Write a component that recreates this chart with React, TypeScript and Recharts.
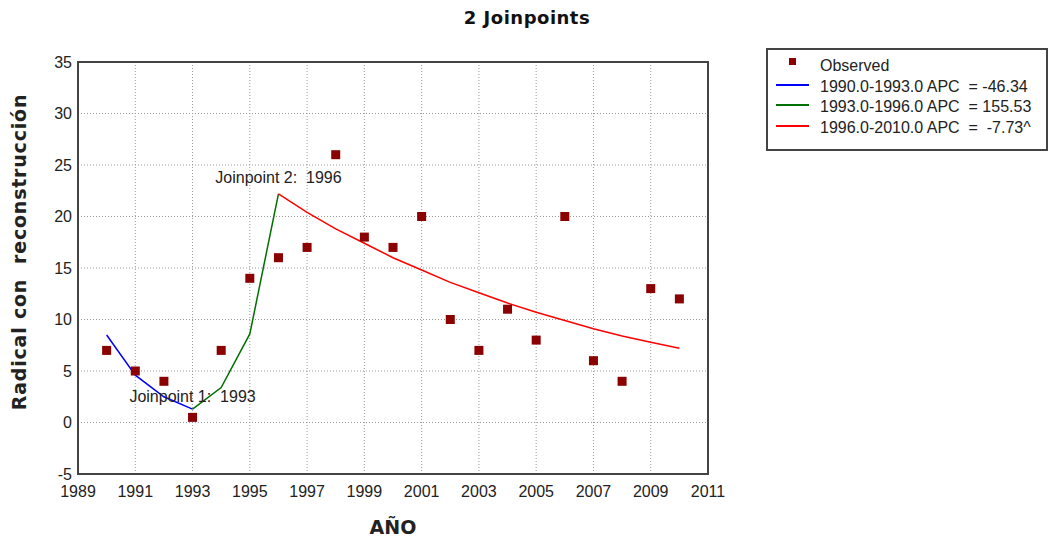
import { ComposedChart, Line, Scatter, XAxis, YAxis, CartesianGrid, ReferenceArea, ReferenceDot, Label } from 'recharts'

const years = [1990, 1991, 1992, 1993, 1994, 1995, 1996, 1997, 1998, 1999, 2000, 2001, 2002, 2003, 2004, 2005, 2006, 2007, 2008, 2009, 2010]
const observed = [7, 5, 4, 0.5, 7, 14, 16, 17, 26, 18, 17, 20, 10, 7, 11, 8, 20, 6, 4, 13, 12]

const seg1Years = [1990, 1991, 1992, 1993]
const seg1Fit = [8.5, 4.6, 2.5, 1.3]
const seg2Years = [1993, 1994, 1995, 1996]
const seg2Fit = [1.3, 3.4, 8.6, 22.2]
const seg3Years = [1996, 1997, 1998, 1999, 2000, 2001, 2002, 2003, 2004, 2005, 2006, 2007, 2008, 2009, 2010]
const seg3Fit = [22.2, 20.4, 18.8, 17.4, 16.0, 14.8, 13.6, 12.6, 11.6, 10.7, 9.9, 9.1, 8.4, 7.8, 7.2]

const xTicks = [1989, 1991, 1993, 1995, 1997, 1999, 2001, 2003, 2005, 2007, 2009, 2011]
const yTicks = [-5, 0, 5, 10, 15, 20, 25, 30, 35]

const legendItems = [
  { label: 'Observed', color: '#8b0000', kind: 'square' },
  { label: '1990.0-1993.0 APC  = -46.34', color: '#0000ff', kind: 'line' },
  { label: '1993.0-1996.0 APC  = 155.53', color: '#007000', kind: 'line' },
  { label: '1996.0-2010.0 APC  =  -7.73^', color: '#ff0000', kind: 'line' },
]

const obsData = years.map((x, i) => ({ x, y: observed[i] }))
const seg1 = seg1Years.map((x, i) => ({ x, y: seg1Fit[i] }))
const seg2 = seg2Years.map((x, i) => ({ x, y: seg2Fit[i] }))
const seg3 = seg3Years.map((x, i) => ({ x, y: seg3Fit[i] }))

const FONT = '"Liberation Sans", Arial, sans-serif'
const BOLD_FONT = '"DejaVu Sans", Verdana, sans-serif'

function Square(props: any) {
  const { cx, cy } = props
  if (cx == null || cy == null) return null
  return <rect x={cx - 4.5} y={cy - 4.5} width={9} height={9} fill="#8b0000" />
}

function LegendBox() {
  return (
    <div style={{ position: 'absolute', left: 766, top: 48, width: 278, height: 93, border: '2px solid #444', fontFamily: FONT, fontSize: 16, color: '#222', paddingTop: 6, boxSizing: 'content-box', background: '#fff' }}>
      {legendItems.map((it) => (
        <div key={it.label} style={{ display: 'flex', alignItems: 'center', height: 20.5 }}>
          <div style={{ width: 52, display: 'flex', justifyContent: 'center' }}>
            {it.kind === 'square' ? (
              <div style={{ width: 7, height: 7, background: it.color, marginTop: -8, marginLeft: -3 }} />
            ) : (
              <div style={{ width: 33, height: 2, background: it.color, marginLeft: -4, marginTop: -3 }} />
            )}
          </div>
          <span style={{ whiteSpace: 'pre' }}>{it.label}</span>
        </div>
      ))}
    </div>
  )
}

export default function App() {
  return (
    <div style={{ position: 'absolute', left: 0, top: 0, width: 1052, height: 538, background: '#fff' }}>
      <ComposedChart width={1052} height={538} margin={{ top: 62, right: 344, bottom: 34, left: 40 }}>
        <CartesianGrid stroke="#999" strokeDasharray="1 2" vertical horizontal />
        <XAxis
          type="number"
          dataKey="x"
          domain={[1989, 2011]}
          ticks={xTicks}
          allowDataOverflow
          tickLine={false}
          tickMargin={6}
          height={30}
          axisLine={{ stroke: '#444', strokeWidth: 2 }}
          tick={{ fontSize: 16, fill: '#222', fontFamily: FONT }}
        >
          <Label
            content={() => (
              <text x={393} y={534} textAnchor="middle" fontFamily={BOLD_FONT} fontWeight="bold" fontSize={19} fill="#222">AÑO</text>
            )}
          />
        </XAxis>
        <YAxis
          type="number"
          dataKey="y"
          domain={[-5, 35]}
          ticks={yTicks}
          allowDataOverflow
          width={38}
          tickLine={false}
          tickMargin={0}
          axisLine={{ stroke: '#444', strokeWidth: 2 }}
          tick={{ fontSize: 16, fill: '#222', fontFamily: FONT }}
        >
          <Label
            content={() => (
              <text x={26} y={252} transform="rotate(-90 26 252)" textAnchor="middle" fontFamily={BOLD_FONT} fontWeight="bold" fontSize={19} letterSpacing={0.8} fill="#222">{'Radical con\u00a0\u00a0reconstrucción'}</text>
            )}
          />
        </YAxis>
        <ReferenceArea x1={1989} x2={2011} y1={-5} y2={35} fill="none" stroke="#444" strokeWidth={2} ifOverflow="visible" />
        <Line data={seg1} dataKey="y" type="linear" stroke="#0000ff" strokeWidth={1.5} dot={false} isAnimationActive={false} />
        <Line data={seg2} dataKey="y" type="linear" stroke="#007000" strokeWidth={1.5} dot={false} isAnimationActive={false} />
        <Line data={seg3} dataKey="y" type="linear" stroke="#ff0000" strokeWidth={1.5} dot={false} isAnimationActive={false} />
        <Scatter data={obsData} dataKey="y" shape={Square} isAnimationActive={false} />
        <ReferenceDot x={1993} y={2.5} r={0} ifOverflow="visible" label={{ value: 'Joinpoint 1:\u00a0\u00a01993', position: 'center', fontSize: 16, fill: '#222', fontFamily: FONT }} />
        <ReferenceDot x={1996} y={23.8} r={0} ifOverflow="visible" label={{ value: 'Joinpoint 2:\u00a0\u00a01996', position: 'center', fontSize: 16, fill: '#222', fontFamily: FONT }} />
        <text x={527} y={24} textAnchor="middle" fontFamily={BOLD_FONT} fontWeight="bold" fontSize={18} letterSpacing={0.5} fill="#111">2 Joinpoints</text>
      </ComposedChart>
      <LegendBox />
    </div>
  )
}
